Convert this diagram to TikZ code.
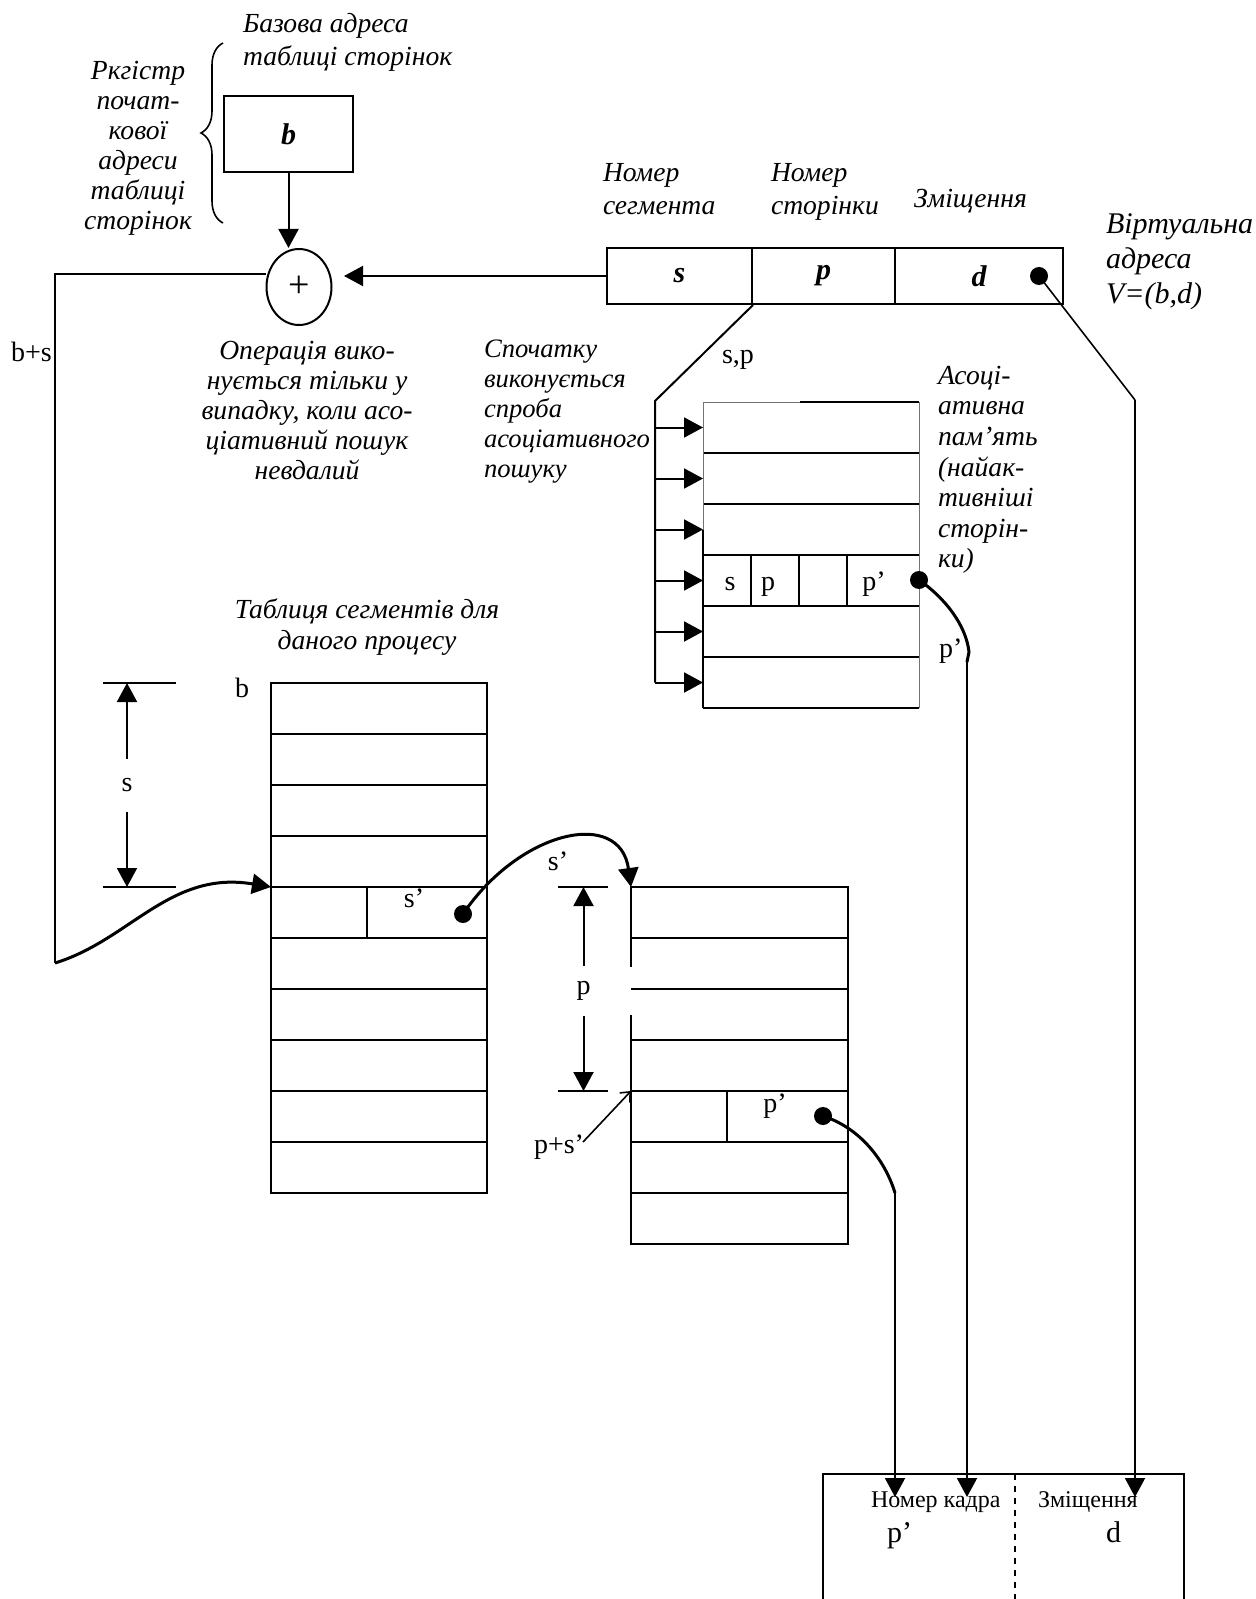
\documentclass[tikz,border=0pt]{standalone}
\usepackage{fontspec}
\setmainfont{Liberation Serif}
\usetikzlibrary{arrows.meta,shapes.geometric,decorations.pathreplacing}
\begin{document}
\begin{tikzpicture}[x=0.5pt,y=-0.5pt,
  line width=1pt,
  arr/.style={-{Triangle[length=9.5pt,width=10pt]}},
  curv/.style={line width=1.5pt},
  faint/.style={line width=0.5pt,draw=black!55},
  it/.style={inner sep=0pt,font=\fontsize{13.8}{15}\selectfont\itshape},
  ithead/.style={inner sep=0pt,font=\fontsize{13.8}{16.5}\selectfont\itshape},
  rm/.style={inner sep=0pt,font=\fontsize{14}{16}\selectfont},
  small/.style={inner sep=0pt,font=\fontsize{12}{14}\selectfont},
  dot/.style={circle,fill=black,inner sep=0pt,minimum size=9pt},
  cell/.style={draw,rectangle,inner sep=0pt,font=\fontsize{15}{17}\selectfont\bfseries\itshape}]

\fill[white] (0,0) rectangle (1255,1599);
\useasboundingbox (0,0) rectangle (1255,1599);

% ---------- base register and adder ----------
\node[ithead,anchor=north west,align=left] (basecap) at (242,12)
  {Базова адреса\\таблиці сторінок};
\node[it,anchor=north,align=center] (regcap) at (138,60)
  {Ркгістр\\почат-\\кової\\адреси\\таблиці\\сторінок};
\draw[line width=0.8pt,decorate,decoration={brace,amplitude=11pt}] (223,223) -- (223,43);
\node[cell,minimum width=64.5pt,minimum height=38pt] (breg) at (288.5,134) {b};
\node[draw,ellipse,minimum width=32.5pt,minimum height=38pt,inner sep=0pt,
      font=\fontsize{19}{21}\selectfont] (sum) at (299,287) {+};
\draw[arr] (breg.south) -- (breg.south |- sum.north);

\node[it,anchor=north,align=center] (opcap) at (307,340)
  {Операція вико-\\нується тільки у\\випадку, коли асо-\\ціативний пошук\\невдалий};
\node[inner sep=0pt,font=\fontsize{13.3}{15}\selectfont\itshape,anchor=north west,align=left]
  (trycap) at (483,339) {Спочатку\\виконується\\спроба\\асоціативного\\пошуку};

% ---------- virtual address ----------
\node[ithead,anchor=north west,align=left] (segcap) at (602,162) {Номер\\сегмента};
\node[ithead,anchor=north west,align=left] (pagecap) at (770,162) {Номер\\сторінки};
\node[ithead,anchor=base west] (offcap) at (913,208) {Зміщення};
\node[inner sep=0pt,font=\fontsize{15}{17.5}\selectfont\itshape,anchor=north west,align=left]
  (vcap) at (1105,213) {Віртуальна\\адреса\\V=(b,d)};

\node[cell,minimum width=72.5pt,minimum height=28pt] (vs) at (679.5,276) {s};
\node[cell,minimum width=71.5pt,minimum height=28pt] (vp) at (823.5,276) {p};
\node[cell,minimum width=84pt,minimum height=28pt] (vd) at (979,276) {d};
\node[dot] (vdot) at (1039,276) {};
\draw[arr,shorten >=5.75pt] (vs.west) -- (vs.west -| sum.east);

% b+s branch back to the segment table
\coordinate (bsTop) at (55,274);
\coordinate (bsBot) at (55,963);
\draw (sum.west |- bsTop) -- (bsTop) -- (bsBot);
\node[rm,anchor=base west] (bslbl) at (10,362) {b+s};

% ---------- associative memory ----------
\node[rm,anchor=base] (splbl) at (738,364) {s,p};
\coordinate (aBend) at (655,401);
\coordinate (aEnd) at (655,682.5);
\draw (vs.south east) -- (aBend) -- (aEnd);
\foreach \k in {0,...,5}
  \draw[arr] (655,{427.5+51*\k}) -- (703,{427.5+51*\k});
% table body
\draw[faint] (703,402) -- (800,402);
\draw (800,402) -- (919,402);
\foreach \k in {1,...,6}
  \draw (703,{402+51*\k}) -- (919,{402+51*\k});
\draw[faint] (703,402) -- (703,530);
\draw (703,530) -- (703,708);
\draw[faint] (919,402) -- (919,708);
\draw (751,555) -- (751,606) (799,555) -- (799,606) (847,555) -- (847,606);
\node[rm,anchor=base] (as) at (730,590) {s};
\node[rm,anchor=base] (ap) at (768,590) {p};
\node[rm,anchor=base] (ap1) at (874,590) {p’};
\node[dot] (adot) at (919,580) {};
\node[inner sep=0pt,anchor=north west,align=left,font=\fontsize{13.8}{15.3}\selectfont\itshape]
  (amcap) at (937,365) {Асоці-\\ативна\\пам’ять\\(найак-\\тивніші\\сторін-\\ки)};
\node[rm,anchor=base west] (ap2) at (938,657) {p’};

% ---------- segment table ----------
\node[inner sep=0pt,anchor=north,align=center,font=\fontsize{13.8}{15.5}\selectfont\itshape]
  (segtcap) at (367,598) {Таблиця сегментів для\\даного процесу};
\node[rm,anchor=base] (blbl) at (242,697) {b};
\draw (271,683) rectangle (487,1193);
\foreach \k in {1,...,9}
  \draw (271,{683+51*\k}) -- (487,{683+51*\k});
\draw (367,887) -- (367,938);
\coordinate (segrow) at (271,887);
\node[rm,anchor=base] (s1) at (414,907) {s’};
\node[dot] (sdot) at (463,914) {};

% offset s
\draw (103,683) -- (176,683) (103,887) -- (176,887);
\node[rm,minimum height=25.5pt] (slbl) at (127,785) {s};
\draw[arr] (slbl.north) -- (127,683);
\draw[arr] (slbl.south) -- (127,887);

\draw[curv,arr] (bsBot) .. controls (130,940) and (170,870) .. (segrow);

% ---------- page table ----------
\coordinate (pagetop) at (631,887);
\coordinate (pagerow) at (631,1091);
\draw (631,887) rectangle (848,1244);
% offset p (its label box masks part of the table edge)
\draw (558,887) -- (608,887) (558,1091) -- (608,1091);
\node[rm,fill=white,minimum width=49pt,minimum height=24pt] (plbl) at (583.5,991) {p};
\draw[arr] (plbl.north) -- (583.5,887);
\draw[arr] (plbl.south) -- (583.5,1091);
\foreach \k in {1,...,6}
  \draw (631,{887+51*\k}) -- (848,{887+51*\k});
\draw (727,1091) -- (727,1142);
\node[rm,anchor=base] (pp1) at (775,1112) {p’};
\node[dot] (pdot) at (823,1116) {};
\node[rm,anchor=base] (s2) at (558,870) {s’};

\draw[curv,arr] (sdot.center) .. controls (520,830) and (620,808) .. (pagetop);

\node[rm,anchor=base west] (pslbl) at (533,1153) {p+s’};
\draw[line width=0.8pt,-{Straight Barb[length=4pt,width=7pt]}] (583,1142) -- (pagerow);

% ---------- physical address ----------
\draw (823,1620) -- (823,1474) -- (1184,1474) -- (1184,1620);
\draw[dashed] (1015,1474) -- (1015,1620);
\node[small,anchor=base west] (frcap) at (870,1507) {Номер кадра};
\node[small,anchor=base west] (ofcap) at (1037,1507) {Зміщення};
\node[font=\fontsize{15}{17}\selectfont,inner sep=0pt,anchor=base west] (fp) at (886,1542) {p’};
\node[font=\fontsize{15}{17}\selectfont,inner sep=0pt,anchor=base west] (fd) at (1105,1542) {d};

\coordinate (bt1) at (895,1497);
\coordinate (bt2) at (967,1497);
\coordinate (bt3) at (1135,1497);
\coordinate (pj) at (895,1193);
\coordinate (aj) at (967,662);

\draw[curv] (pdot.center) .. controls (860,1128) and (885,1160) .. (pj);
\draw[arr] (pj) -- (bt1);
\draw[curv] (adot.center) .. controls (945,598) and (966,625) .. (969,652) -- (aj);
\draw[arr] (aj) -- (bt2);
\coordinate (vBend) at (1135,400);
\draw[line width=0.8pt] (vdot.center) -- (vBend);
\draw[arr] (vBend) -- (bt3);

\end{tikzpicture}
\end{document}
